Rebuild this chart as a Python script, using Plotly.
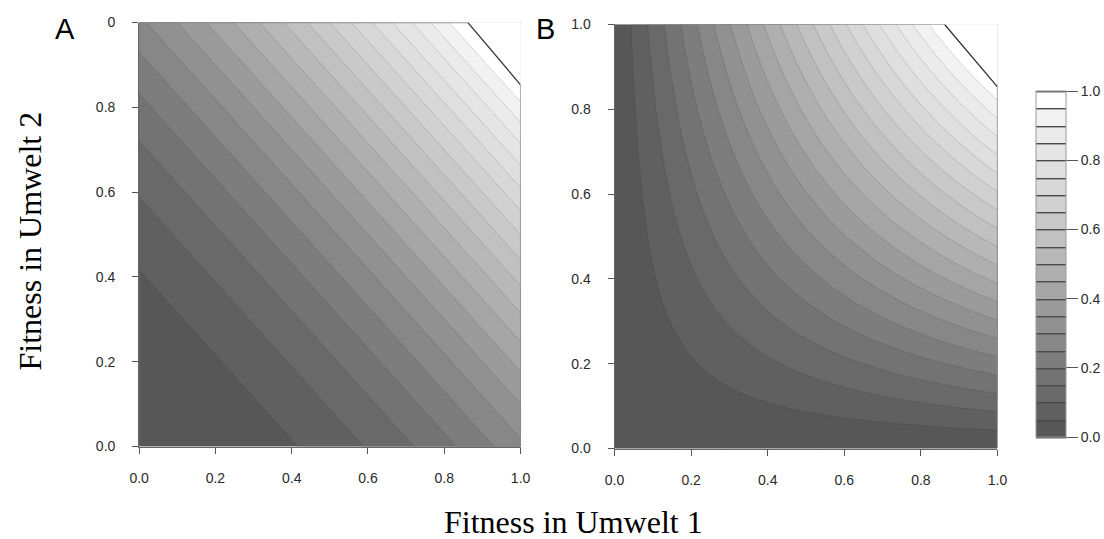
import numpy as np
import plotly.graph_objects as go

# ---- data ----
fitness_grid = np.linspace(0.0, 1.0, 201)          # fitness values on both axes
contour_levels = dict(start=0.0, end=1.0, size=0.05)
axis_tickvals = [0.0, 0.2, 0.4, 0.6, 0.8, 1.0]
axis_ticktext = ["0.0", "0.2", "0.4", "0.6", "0.8", "1.0"]
panelA_y_ticktext = ["0.0", "0.2", "0.4", "0.6", "0.8", "0"]
colorbar_ticktext = ["0.0", "0.2", "0.4", "0.6", "0.8", "1.0"]
cut_sum = 1.86         # the plotted region is x + y <= cut_sum (cut top-right corner)
corner_cut_x = 0.862   # where the cut corner meets the top edge
corner_cut_y = 0.853   # where the cut corner meets the right edge

# gray levels of the 20 bands (0.00-0.05 ... 0.95-1.00)
band_grays = [87, 96, 105, 115, 125, 135, 145, 155, 165, 175,
              184, 193, 201, 209, 216, 223, 229, 235, 242, 255]

X, Y = np.meshgrid(fitness_grid, fitness_grid)
norm = (cut_sum / 2.0) ** 2                      # maximum inside the plotted region
z_arith = ((X + Y) / 2.0) ** 2 / norm            # panel A: squared arithmetic mean, scaled
z_geom = (X * Y) / norm                          # panel B: squared geometric mean, scaled

# stepped colorscale
n = len(band_grays)
colorscale = []
for i, g in enumerate(band_grays):
    c = f"rgb({g},{g},{g})"
    colorscale.append([i / n, c])
    colorscale.append([(i + 1) / n, c])

TICKFONT = dict(family="Liberation Sans, Arial, sans-serif", size=14, color="#2a2a2a")
TITLEFONT = dict(family="Liberation Serif, Times New Roman, serif", size=32, color="#000")


def contour(z, xa, ya, showscale=False, line=None):
    return go.Contour(
        x=fitness_grid, y=fitness_grid, z=z,
        xaxis=xa, yaxis=ya,
        zmin=0, zmax=1, autocontour=False,
        contours=dict(coloring="fill", showlines=True, **contour_levels),
        line=line or dict(width=0.6, color="rgba(50,50,50,0.28)"),
        colorscale=colorscale, showscale=showscale, hoverinfo="skip",
    )


fig = go.Figure()
fig.add_trace(contour(z_arith, "x", "y"))
fig.add_trace(contour(z_geom, "x2", "y2"))

# dummy trace that only carries the colour bar (its data lie off-axis)
cb = contour(z_arith, "x3", "y3", showscale=True,
             line=dict(width=1.4, color="#4a4a4a"))
cb.update(colorbar=dict(
    x=1045 / 1104, xanchor="left", y=(539 - 264) / 539, yanchor="middle",
    len=346, lenmode="pixels", thickness=30, thicknessmode="pixels",
    xpad=0, ypad=0, outlinecolor="#9a9a9a", outlinewidth=1,
    tickvals=axis_tickvals, ticktext=colorbar_ticktext,
    ticks="outside", ticklen=12, tickcolor="#555", tickwidth=1,
    tickfont=TICKFONT,
))
fig.add_trace(cb)

axis_common = dict(
    range=[0, 1], tickvals=axis_tickvals, ticks="outside", ticklen=6,
    tickcolor="#555", showgrid=False, zeroline=False, showline=True,
    linecolor="#666", linewidth=1, tickfont=TICKFONT,
)

W, H = 1104, 539
fig.update_layout(
    width=W, height=H, margin=dict(l=0, r=0, t=0, b=0),
    paper_bgcolor="white", plot_bgcolor="white", showlegend=False,
    xaxis=dict(domain=[131.5 / W, 520 / W], anchor="y", ticktext=axis_ticktext,
               ticklabelstandoff=13, **axis_common),
    yaxis=dict(domain=[(H - 452) / H, (H - 15) / H], anchor="x", ticktext=panelA_y_ticktext,
               ticklabelstandoff=14, **axis_common),
    xaxis2=dict(domain=[615.7 / W, 1005.7 / W], anchor="y2", ticktext=axis_ticktext,
                ticklabelstandoff=13, **axis_common),
    yaxis2=dict(domain=[(H - 454) / H, (H - 17) / H], anchor="x2", ticktext=axis_ticktext,
                ticklabelstandoff=14, **axis_common),
    xaxis3=dict(domain=[0.0, 0.01], anchor="y3", range=[5, 6], visible=False),
    yaxis3=dict(domain=[0.0, 0.01], anchor="x3", range=[5, 6], visible=False),
)

shapes = []
for xr, yr in (("x", "y"), ("x2", "y2")):
    shapes.append(dict(type="path", xref=xr, yref=yr, layer="above",
                       path=f"M {corner_cut_x},1 L 1,{corner_cut_y} L 1,1.02 L {corner_cut_x},1.02 Z",
                       fillcolor="white", line=dict(width=0)))
    shapes.append(dict(type="line", xref=xr, yref=yr, layer="above",
                       x0=0, y0=1, x1=corner_cut_x, y1=1, line=dict(color="#8a8a8a", width=1.2)))
    shapes.append(dict(type="line", xref=xr, yref=yr, layer="above",
                       x0=corner_cut_x, y0=1, x1=1, y1=corner_cut_y, line=dict(color="#333", width=1.3)))
    shapes.append(dict(type="line", xref=xr, yref=yr, layer="above",
                       x0=1, y0=corner_cut_y, x1=1, y1=0, line=dict(color="#8a8a8a", width=1.2)))
fig.update_layout(shapes=shapes)

LABELFONT = dict(family="Liberation Sans, Arial", size=29, color="#000")
fig.add_annotation(text="A", xref="paper", yref="paper", x=56 / W, y=(H - 22) / H,
                   xanchor="center", yanchor="middle", showarrow=False, font=LABELFONT)
fig.add_annotation(text="B", xref="paper", yref="paper", x=545 / W, y=(H - 22) / H,
                   xanchor="center", yanchor="middle", showarrow=False, font=LABELFONT)
fig.add_annotation(text="Fitness in Umwelt 1", xref="paper", yref="paper",
                   x=573.5 / W, y=(H - 530) / H, xanchor="center", yanchor="middle",
                   showarrow=False, font=TITLEFONT)
fig.add_annotation(text="Fitness in Umwelt 2", xref="paper", yref="paper",
                   x=20 / W, y=(H - 240) / H, xanchor="center", yanchor="middle",
                   showarrow=False, textangle=-90, font=TITLEFONT)

fig.write_html("out.html")
